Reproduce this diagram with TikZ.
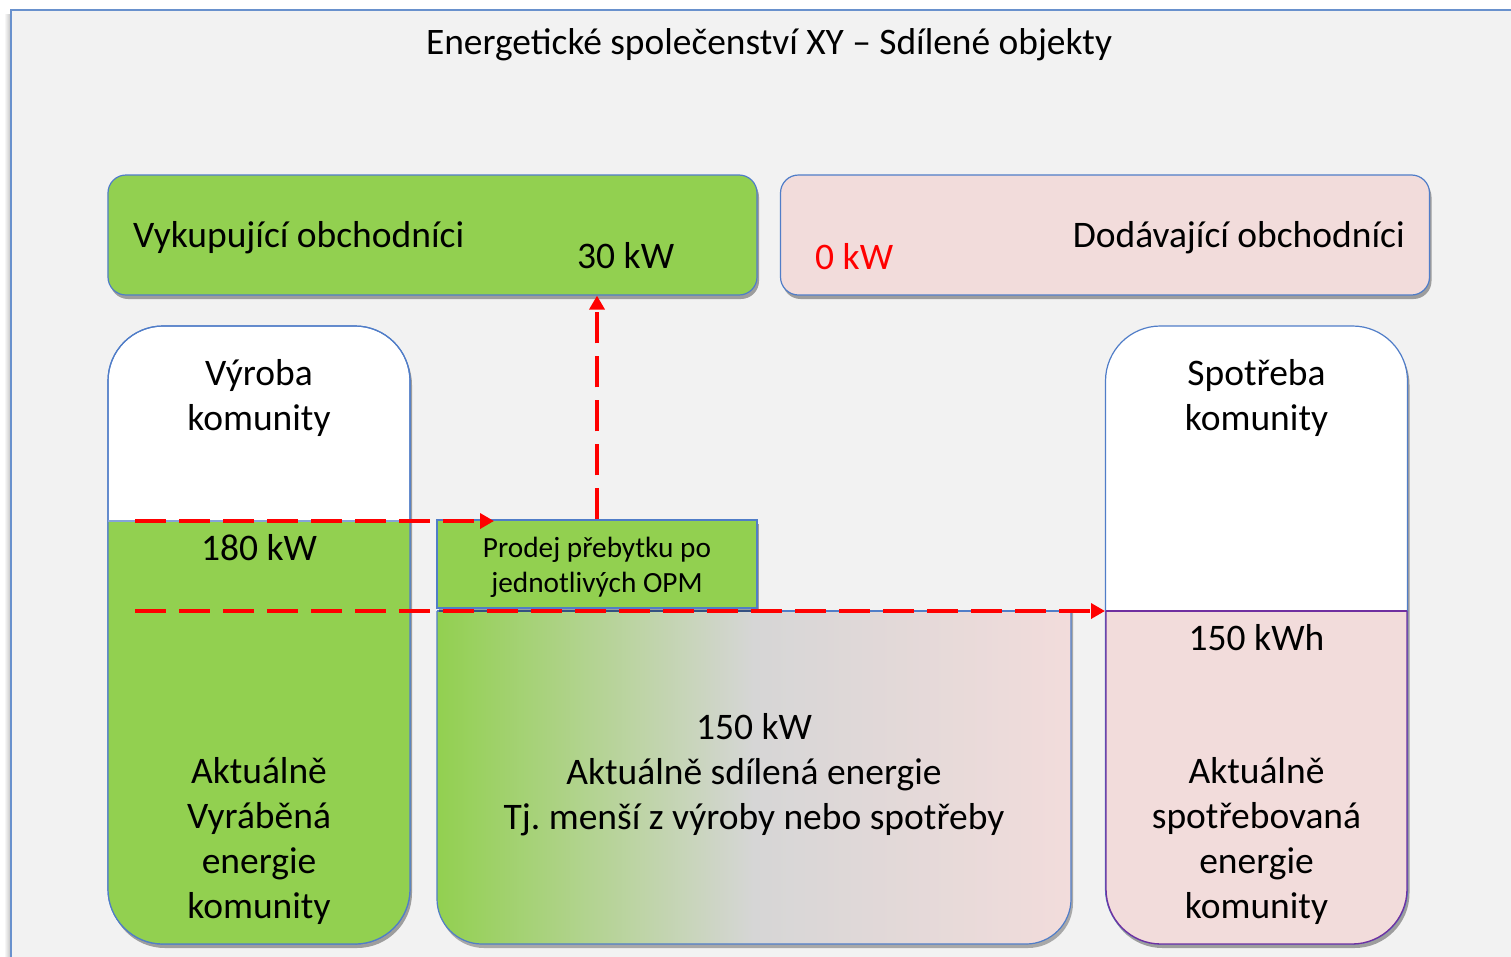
\documentclass[tikz,border=0pt]{standalone}
\usepackage{fontspec}
\setmainfont{Carlito}
\frenchspacing
\usetikzlibrary{arrows.meta,shadows}
\definecolor{cgreen}{RGB}{146,208,80}
\definecolor{cpink}{RGB}{242,220,219}
\definecolor{cgray}{RGB}{214,214,214}
\definecolor{framebg}{RGB}{242,242,242}
\definecolor{frameline}{RGB}{105,145,205}
\definecolor{boxline}{RGB}{80,125,200}
\definecolor{cpurple}{RGB}{112,48,160}
\definecolor{cred}{RGB}{255,0,0}
\pgfdeclarehorizontalshading{sharegrad}{100bp}{color(0bp)=(cgreen); color(25bp)=(cgreen); color(50bp)=(cgray); color(75bp)=(cpink); color(100bp)=(cpink)}
\tikzset{
  boxshadow/.style={drop shadow={shadow xshift=2bp, shadow yshift=-4bp, opacity=0.35, fill=black}},
  topbox/.style={draw=boxline, line width=1.2bp, rounded corners=18bp, minimum width=649bp, minimum height=120bp, inner sep=0pt, boxshadow},
  tallbox/.style={draw=boxline, line width=1.2bp, fill=white, rounded corners=55bp, minimum width=302bp, minimum height=618bp, inner sep=0pt, boxshadow},
  bigtxt/.style={font=\fontsize{37.5bp}{45bp}\selectfont, align=center, inner sep=0pt, anchor=base},
  smalltxt/.style={font=\fontsize{29.3bp}{35bp}\selectfont, align=center, inner sep=0pt},
  redarrow/.style={draw=cred, line width=3.5bp, dash pattern=on 31bp off 13bp, -{Triangle[length=14bp,width=15bp]}},
}
\begin{document}
\begin{tikzpicture}[x=1bp, y=-1bp]
\useasboundingbox (0,0) rectangle (1511,956);
% frame
\fill[white] (0,0) rectangle (1511,956);
\shade[left color=white, right color=black!25] (4,14) rectangle (11,956);
\fill[framebg] (11,10) rectangle (1530,980);
\draw[frameline, line width=2bp] (11,980) -- (11,10) -- (1530,10);
\node[font=\fontsize{37.4bp}{45bp}\selectfont, anchor=base, inner sep=0pt] (title) at (769,54) {Energetické společenství XY – Sdílené objekty};

% top boxes
\node[topbox, fill=cgreen] (buy) at (432.5,235) {};
\node[topbox, fill=cpink] (supply) at (1105,235) {};
\node[bigtxt, anchor=base west] (buytxt) at (133,247) {Vykupující obchodníci};
\node[bigtxt, anchor=base west] (buyval) at (577,268) {30 kW};
\node[bigtxt, anchor=base west, text=cred] (supval) at (815,269) {0 kW};
\node[bigtxt, anchor=base east] (suptxt) at (1405,247) {Dodávající obchodníci};

% left tall box (production)
\node[tallbox] (prod) at (259,635) {};
\begin{scope}
  \clip (100,521) rectangle (420,960);
  \fill[cgreen, rounded corners=55bp] (108,326) rectangle (410,944);
\end{scope}
\draw[boxline, line width=1.2bp, rounded corners=55bp] (108,326) rectangle (410,944);
\draw[boxline!70, line width=1.2bp] (108,521) -- (410,521);
\node[bigtxt] (prodhead) at (259,430) {Výroba\\komunity};
\node[bigtxt] (prodval) at (259,560) {180 kW};
\node[bigtxt] (prodtxt) at (259,918) {Aktuálně\\Vyráběná\\energie\\komunity};

% right tall box (consumption)
\node[tallbox] (cons) at (1256.5,635) {};
\begin{scope}
  \clip (1095,611) rectangle (1420,960);
  \fill[cpink, rounded corners=55bp] (1106,326) rectangle (1407,944);
  \draw[cpurple, line width=1.3bp, rounded corners=55bp] (1106,326) rectangle (1407,944);
\end{scope}
\draw[cpurple, line width=1.3bp] (1106,611) -- (1407,611);
\node[bigtxt] (conshead) at (1256.5,430) {Spotřeba\\komunity};
\node[bigtxt] (consval) at (1256.5,650) {150 kWh};
\node[bigtxt] (constxt) at (1256.5,918) {Aktuálně\\spotřebovaná\\energie\\komunity};

% shared energy box
\begin{scope}
  \clip (430,611) rectangle (1090,960);
  \fill[black, opacity=0.3, rounded corners=45bp] (439,545) rectangle (1073,948);
  \shade[shading=sharegrad, rounded corners=45bp] (437,540) rectangle (1071,944);
  \draw[boxline, line width=1.2bp, rounded corners=45bp] (437,540) rectangle (1071,944);
\end{scope}
\draw[boxline, line width=1.2bp] (437,611) -- (1071,611);
\node[bigtxt] (share) at (754,829) {150 kW\\Aktuálně sdílená energie\\Tj. menší z výroby nebo spotřeby};

% surplus sale box
\node[draw=boxline, line width=1.2bp, fill=cgreen, minimum width=320bp, minimum height=88bp, inner sep=0pt, boxshadow] (sell) at (597,564) {};
\node[smalltxt] (selltxt) at (597,567) {Prodej přebytku po\\jednotlivých OPM};

% arrows
\coordinate (a1s) at (135,521);
\coordinate (a1e) at (494,521);
\coordinate (a3s) at (135,611);
\coordinate (a3e) at (1105,611);
\draw[redarrow] (a1s) -- (a1e);
\draw[redarrow] (sell.north) -- (buy.south -| sell.north);
\draw[redarrow] (a3s) -- (a3e);
\end{tikzpicture}
\end{document}
